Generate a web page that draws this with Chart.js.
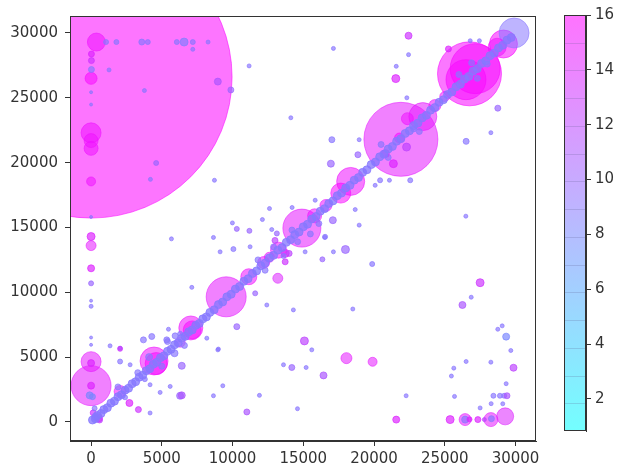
<!DOCTYPE html>
<html>
<head>
<meta charset="utf-8">
<script src="https://cdn.jsdelivr.net/npm/chart.js@4/dist/chart.umd.min.js"></script>
<style>
  body { margin: 0; background: #fff; }
  #main { position: absolute; left: 0; top: 0; }
  #cbar { position: absolute; left: 545px; top: 0; }
</style>
</head>
<body>
<canvas id="main" width="545" height="474"></canvas>
<canvas id="cbar" width="72" height="474"></canvas>
<script>
// rows are [x, y, size (radius), colour value]
var bigBubbles = [
  [0, 26600, 141, 15.8],
  [0, 2800, 20, 14.5], [0, 4650, 10, 14.5],
  [4450, 4700, 14, 15], [4600, 4500, 11, 15.5],
  [7050, 7250, 12, 15], [7150, 7100, 9, 15.5],
  [9550, 9650, 20, 14.5], [11150, 11200, 8, 15],
  [14900, 14950, 19, 14.5], [18350, 18550, 14, 15], [17650, 17650, 10, 15.5],
  [21900, 21800, 37, 14.5], [23450, 23550, 14, 14.5],
  [26750, 26850, 32, 15.5], [27150, 27250, 25, 15.5], [26500, 26400, 20, 15.5],
  [29150, 29150, 14, 15.5], [29900, 30000, 15, 9], [28700, 28900, 9, 15],
  [2050, 2350, 6, 15], [13250, 13250, 8, 15], [12200, 12300, 6, 15],
  [15800, 15900, 7, 15], [16600, 16700, 6, 15], [24300, 24400, 6, 15],
  [25000, 25100, 5, 15], [12600, 12700, 5, 15], [6300, 6150, 5, 14],
  [21800, 21900, 5, 15.5], [22360, 23390, 6, 15], [520, 310, 4, 15]
];
var bottomRight = [
  [27500, 10740, 4, 13], [26870, 9620, 2, 9], [26250, 9020, 3.5, 11], [28750, 7150, 2, 9],
  [29060, 7410, 2, 9], [29340, 6580, 3.5, 8], [29670, 5510, 2, 9], [29860, 4180, 3.5, 12],
  [28260, 4610, 2, 9], [26510, 4660, 2, 9], [25640, 4150, 2, 9], [25470, 3540, 2, 9],
  [29340, 2950, 2, 9], [28440, 2020, 2.5, 9], [28900, 2020, 2.5, 9], [29200, 2020, 2.5, 9],
  [29400, 2020, 3, 11], [25690, 1970, 2, 9], [22270, 2020, 2, 9], [28280, 1410, 2, 9],
  [29100, 1400, 2, 9], [27500, 1080, 2, 9],
  [29270, 430, 8.5, 14], [28260, 180, 7, 14.5], [26440, 180, 6, 14.5], [25380, 180, 4, 14],
  [21570, 180, 3.5, 14], [27340, 180, 3, 14], [26440, 180, 3.5, 9], [26750, 200, 2.5, 14],
  [27800, 180, 2, 12], [28300, 250, 3, 9]
];
var leftColumn = [
  [375, 29300, 9, 15], [0, 22300, 10, 15], [0, 21700, 7, 15], [0, 21100, 7, 15],
  [0, 26500, 6, 15.5], [0, 18550, 4.5, 15], [0, 13600, 5, 14.5], [0, 14300, 4, 14],
  [0, 11850, 3.5, 14], [25, 28380, 3, 14], [25, 27870, 3, 13], [25, 27180, 3, 9],
  [0, 25430, 1.5, 9], [0, 24480, 1.5, 9], [0, 15810, 1.5, 9], [0, 10690, 2.5, 10],
  [0, 9350, 1.5, 9], [0, 8920, 2, 9], [0, 6510, 1.5, 9], [0, 5950, 1.5, 9],
  [0, 4540, 3.5, 14], [0, 2800, 3.5, 14], [-100, 2050, 3.5, 8], [100, 1950, 3, 8],
  [150, 700, 3, 13], [300, 400, 3.5, 9], [600, 150, 3, 12], [250, 1050, 2.5, 9]
];
var topRow = [
  [1060, 29300, 2.5, 9], [1790, 29300, 2.5, 9], [3585, 29300, 3, 9], [4010, 29300, 2.5, 9],
  [6060, 29300, 2.5, 9], [6575, 29300, 4, 8.5], [7190, 29300, 2.5, 9], [8270, 29300, 2, 9],
  [7190, 28740, 2, 9]
];
var scattered = [
  [1270, 27150, 2, 9], [3770, 25560, 2, 9], [4600, 19970, 2.5, 10], [4195, 18710, 2, 9],
  [8720, 18640, 2, 9], [8960, 26250, 3.5, 11], [9880, 25610, 3, 10], [11170, 27460, 2, 9],
  [14120, 23460, 2, 9], [12610, 16460, 2, 9], [14210, 16540, 2, 9], [9990, 15350, 2, 9],
  [10300, 14890, 2.5, 10], [11190, 14740, 2.5, 10], [12110, 15610, 2, 9], [8650, 14230, 2, 9],
  [5680, 14120, 2, 9], [12770, 14840, 2, 9], [13130, 14540, 2.5, 10],
  [17130, 28810, 2, 9], [22440, 28330, 2, 9], [21570, 27430, 2, 9], [22320, 25000, 2, 9],
  [28750, 24200, 3, 10], [28260, 22310, 2, 9], [26510, 21640, 3, 9], [17020, 21770, 3, 9],
  [18950, 21770, 2, 9], [18860, 20610, 3, 10], [16950, 19920, 3.5, 10], [20430, 18640, 2.5, 9],
  [21090, 18640, 2, 9], [22560, 18640, 2.5, 9], [20080, 18250, 2, 9], [26490, 15870, 2, 9],
  [15840, 17100, 2, 9], [17090, 15560, 3.5, 10], [18670, 16380, 2, 9], [18950, 15180, 2, 9],
  [16540, 14280, 2.5, 9], [25260, 28770, 3, 14], [26800, 29400, 2, 9], [27450, 29400, 2, 9],
  [21370, 19920, 4, 14], [21540, 26480, 4, 14], [22440, 29790, 3.5, 13],
  [15080, 6250, 4, 12], [14300, 8640, 2, 9], [12420, 9020, 2, 9], [10300, 7350, 3, 10],
  [9000, 5620, 2, 9], [7120, 10380, 2, 9], [9120, 13120, 2, 9], [10060, 13330, 2.5, 9],
  [11240, 13510, 2, 9], [11600, 9920, 2.5, 10], [13720, 13000, 4, 14], [15130, 13120, 2, 9],
  [13720, 12350, 3, 13], [17980, 13300, 4, 10], [17130, 13120, 2, 9], [16350, 12540, 2.5, 10],
  [16520, 14230, 2, 9], [19870, 12180, 2.5, 9], [18500, 8710, 2, 9], [14190, 4200, 3, 10],
  [13600, 4410, 2, 9], [15200, 4200, 2, 9], [15600, 5560, 2, 9], [16430, 3590, 3.5, 11],
  [14590, 1020, 2, 9], [8180, 6460, 2, 9], [8960, 5560, 2, 9], [8650, 2020, 2, 9],
  [9310, 2790, 2, 9], [11010, 770, 3, 11], [11900, 2050, 2, 9], [13200, 11080, 5, 14],
  [18050, 4920, 5.5, 14.5], [19900, 4640, 4.5, 14.5],
  [1340, 5870, 2, 9], [2050, 5690, 2, 9], [2050, 4660, 2.5, 9], [2760, 4410, 2, 9],
  [4170, 2870, 2, 9], [4880, 2280, 2, 9], [5590, 2740, 2, 9], [6290, 2020, 3.5, 10],
  [4170, 690, 2, 9], [2710, 1460, 3.5, 14], [3345, 950, 3, 13], [5470, 7150, 2, 9],
  [6410, 2050, 3.5, 11], [2050, 5640, 2.5, 13], [3700, 6330, 3, 9], [4290, 6590, 3, 9],
  [5350, 6330, 3, 9], [5940, 6640, 3, 9], [6410, 4330, 3.5, 10]
];
var nearDiagonal = [
  [1900, 2700, 3, 9], [2400, 1900, 2.5, 9], [3300, 3800, 3, 9], [3800, 3300, 2.5, 9],
  [4100, 5000, 3.5, 9], [5000, 4300, 3, 9], [5400, 6200, 3, 9], [5900, 5300, 3.5, 9],
  [6300, 6800, 2.5, 9], [6600, 5900, 3, 9], [11800, 12500, 3, 9], [12300, 11700, 3, 9],
  [12900, 13500, 3, 9], [13600, 12800, 2.5, 9], [14200, 14800, 3, 9], [14600, 13900, 3, 9],
  [15500, 14500, 3, 9], [16100, 15300, 3, 9], [13000, 14000, 3, 12], [14000, 13000, 3, 12],
  [20500, 21400, 3, 9], [21000, 20400, 3, 9], [20800, 20700, 4, 12], [22300, 21200, 4, 12],
  [22800, 22600, 3, 9], [23200, 22400, 3, 9], [26000, 26800, 3, 9], [27300, 26500, 3, 9],
  [26900, 27700, 3, 9], [28000, 27600, 3, 9]
];
// the dense chain of small dots along y = x, read as [x, y]
var diagonal = [
  [100, 150], [300, 250], [450, 500], [700, 650], [900, 950], [1150, 1100], [1400, 1450],
  [1650, 1600], [1900, 1950], [2150, 2100], [2400, 2450], [2650, 2600], [2900, 2950],
  [3150, 3100], [3400, 3450], [3650, 3600], [3900, 3950], [4150, 4100], [4400, 4450],
  [4650, 4600], [4900, 4950], [5150, 5100], [5400, 5450], [5650, 5600], [5900, 5950],
  [6150, 6100], [6400, 6450], [6650, 6600], [6900, 6950], [7150, 7100], [7400, 7450],
  [7650, 7600], [7900, 7950], [8150, 8100], [8400, 8450], [8700, 8650], [9000, 9050],
  [9300, 9250], [9600, 9650], [9900, 9850], [10200, 10250], [10500, 10450], [10800, 10850],
  [11100, 11050], [11400, 11450], [11700, 11650], [12000, 12050], [12300, 12250],
  [12600, 12650], [12900, 12850], [13200, 13250], [13500, 13450], [13800, 13850],
  [14100, 14050], [14400, 14450], [14700, 14650], [15000, 15050], [15300, 15250],
  [15600, 15650], [15900, 15850], [16200, 16250], [16500, 16450], [16800, 16850],
  [17100, 17050], [17400, 17450], [17700, 17650], [18000, 18050], [18300, 18250],
  [18600, 18650], [18900, 18850], [19200, 19250], [19500, 19450], [19800, 19850],
  [20100, 20050], [20400, 20450], [20700, 20650], [21000, 21050], [21300, 21250],
  [21600, 21650], [21900, 21850], [22200, 22250], [22500, 22450], [22800, 22850],
  [23100, 23050], [23400, 23450], [23700, 23650], [24000, 24050], [24300, 24250],
  [24600, 24650], [24900, 24850], [25200, 25250], [25500, 25450], [25800, 25850],
  [26100, 26050], [26400, 26450], [26700, 26650], [27000, 27050], [27300, 27250],
  [27600, 27650], [27900, 27850], [28200, 28250], [28500, 28450], [28800, 28850],
  [29100, 29050], [29400, 29450], [29700, 29650]
];
var diagSize = 4;
var diagColour = 8.8;

var xTicks = [0, 5000, 10000, 15000, 20000, 25000, 30000];
var yTicks = [0, 5000, 10000, 15000, 20000, 25000, 30000];
var cbarTicks = [2, 4, 6, 8, 10, 12, 14, 16];
var cMin = 0.83, cMax = 16;
var alpha = 0.55;

function cool(v, a) {
  var t = Math.min(1, Math.max(0, (v - cMin) / (cMax - cMin)));
  return 'rgba(' + Math.round(255 * t) + ',' + Math.round(255 * (1 - t)) + ',255,' + a + ')';
}

var others = bigBubbles.concat(leftColumn, topRow, scattered, nearDiagonal, bottomRight);
var chain = diagonal.map(function (p) { return [p[0], p[1], diagSize, diagColour]; });
// small marks look denser in the source because edge and face overlap
function alphaFor(r) { return r[2] <= 4 ? 0.68 : alpha; }

function toPoints(list) { return list.map(function (r) { return { x: r[0], y: r[1], r: r[2] }; }); }

var font = { family: 'DejaVu Sans', size: 15 };
var ink = '#333';

function drawFrame(chart) {
  var a = chart.chartArea, ctx = chart.ctx;
  ctx.save();
  ctx.strokeStyle = ink;
  ctx.lineWidth = 1;
  ctx.strokeRect(Math.round(a.left) + 0.5, Math.round(a.top) + 0.5,
    Math.round(a.right - a.left) - 1, Math.round(a.bottom - a.top) - 1);
  ctx.restore();
}

var otherFills = others.map(function (r) { return cool(r[3], alphaFor(r)); });
var chainFills = chain.map(function (r) { return cool(r[3], 0.78); });

new Chart(document.getElementById('main').getContext('2d'), {
  type: 'bubble',
  data: {
    datasets: [{
      data: toPoints(others),
      backgroundColor: otherFills,
      borderColor: otherFills,
      borderWidth: 1,
      clip: 0,
      order: 2
    }, {
      data: toPoints(chain),
      backgroundColor: chainFills,
      borderColor: chainFills,
      borderWidth: 1,
      clip: 0,
      order: 1
    }]
  },
  options: {
    responsive: false,
    animation: false,
    events: [],
    layout: { autoPadding: false, padding: { top: 15, right: 9, left: 0, bottom: 0 } },
    plugins: { legend: { display: false }, tooltip: { enabled: false } },
    scales: {
      x: {
        type: 'linear', min: -1490, max: 31450,
        afterBuildTicks: function (s) { s.ticks = xTicks.map(function (v) { return { value: v }; }); },
        afterFit: function (s) { s.height = 33; },
        grid: { drawOnChartArea: false, drawTicks: true, tickLength: 5, color: ink },
        border: { display: true, color: ink },
        ticks: { font: font, color: ink, padding: 4, maxRotation: 0, callback: function (v) { return String(v); } }
      },
      y: {
        type: 'linear', min: -1470, max: 31310,
        afterBuildTicks: function (s) { s.ticks = yTicks.map(function (v) { return { value: v }; }); },
        afterFit: function (s) { s.width = 70; },
        grid: { drawOnChartArea: false, drawTicks: true, tickLength: 5, color: ink },
        border: { display: true, color: ink },
        ticks: { font: font, color: ink, padding: 7, callback: function (v) { return String(v); } }
      }
    }
  },
  plugins: [{ id: 'frame', afterDraw: drawFrame }]
});

// colour bar: gradient drawn against the bar's own y scale
var cbarPlugin = {
  id: 'cbarFill',
  afterDraw: function (chart) {
    var a = chart.chartArea, ctx = chart.ctx, ys = chart.scales.y;
    var y0 = ys.getPixelForValue(cMin), y1 = ys.getPixelForValue(cMax);
    var g = ctx.createLinearGradient(0, y0, 0, y1);
    for (var i = 0; i <= 10; i++) g.addColorStop(i / 10, cool(cMin + (cMax - cMin) * i / 10, alpha));
    ctx.save();
    ctx.fillStyle = g;
    ctx.fillRect(a.left, a.top, a.right - a.left, a.bottom - a.top);
    ctx.strokeStyle = 'rgba(90,90,140,0.22)';
    ctx.lineWidth = 1;
    var bands = 15;
    for (var k = 1; k < bands; k++) {
      var y = Math.round(ys.getPixelForValue(cMin + (cMax - cMin) * k / bands)) + 0.5;
      ctx.beginPath(); ctx.moveTo(a.left, y); ctx.lineTo(a.right, y); ctx.stroke();
    }
    ctx.restore();
    drawFrame(chart);
  }
};

new Chart(document.getElementById('cbar').getContext('2d'), {
  type: 'scatter',
  data: { datasets: [] },
  options: {
    responsive: false,
    animation: false,
    events: [],
    layout: { padding: { top: 15, left: 19, right: 0, bottom: 43 } },
    plugins: { legend: { display: false }, tooltip: { enabled: false } },
    scales: {
      x: { display: false, min: 0, max: 1 },
      y: {
        position: 'right', min: cMin, max: cMax,
        afterBuildTicks: function (s) { s.ticks = cbarTicks.map(function (v) { return { value: v }; }); },
        afterFit: function (s) { s.width = 31; },
        grid: { drawOnChartArea: false, drawTicks: true, tickLength: 5, color: ink },
        border: { display: true, color: ink },
        ticks: { font: font, color: ink, padding: 4 }
      }
    }
  },
  plugins: [cbarPlugin]
});
</script>
</body>
</html>
